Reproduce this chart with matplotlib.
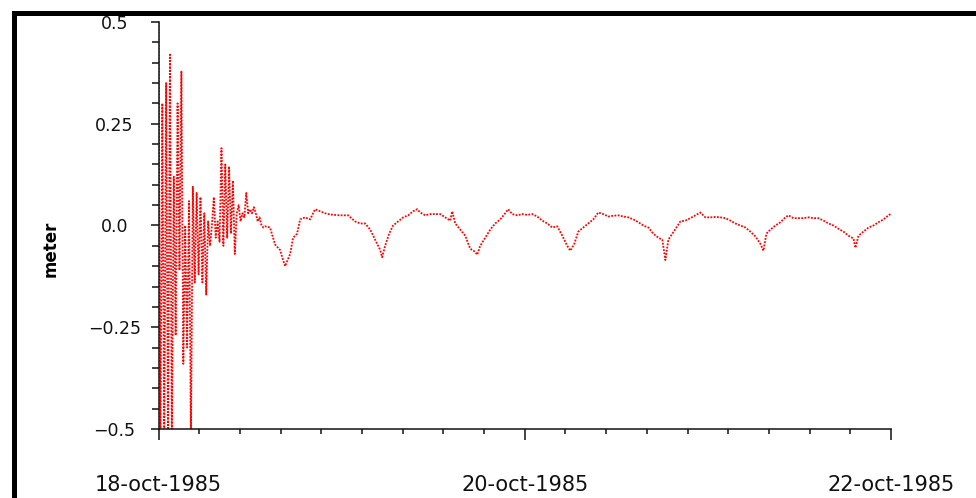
import numpy as np
import matplotlib
matplotlib.use("Agg")
import matplotlib.pyplot as plt
from matplotlib.patches import Rectangle
from matplotlib.ticker import MultipleLocator, FixedLocator, FixedFormatter

# sea level (meter), time in hours since 18-oct-1985 00:00
# model spin-up, first ~14 h at 15 min steps
spinup_step = 0.25
spinup_level = [0.50, -0.55, 0.30, -0.55, 0.35, -0.55, 0.42, -0.52, 0.12, -0.27,
                0.30, -0.11, 0.38, -0.34, 0.00, -0.30, 0.06, -0.52, 0.095, -0.14,
                0.08, -0.12, 0.07, -0.14, 0.03, -0.17, 0.01, -0.05, 0.00, 0.07,
                -0.03, 0.01, -0.04, 0.19, -0.05, 0.15, -0.03, 0.145, -0.02, 0.11,
                -0.07, 0.03, 0.05, 0.01, 0.03, 0.02, 0.08, 0.03, 0.04, 0.03,
                0.045, 0.03, 0.01, 0.02, 0.00, -0.005]

# settled tidal signal
tide_hours = [13.97, 14.62, 15.28, 15.93, 16.33, 16.59, 17.25, 17.64, 18.16, 18.56,
              19.21, 19.87, 20.52, 21.18, 21.84, 22.49, 23.80, 24.85, 25.77, 26.43,
              27.08, 27.74, 28.39, 29.05, 29.31, 29.70, 30.23, 30.75, 31.41, 32.07,
              32.72, 33.38, 33.90, 34.30, 34.95, 35.61, 36.26, 36.92, 37.57, 38.23,
              38.49, 38.89, 39.54, 40.20, 40.85, 41.51, 41.77, 42.16, 42.82, 43.48,
              44.13, 44.79, 45.44, 45.84, 46.36, 47.02, 47.67, 48.33, 48.98, 49.64,
              50.30, 50.95, 51.61, 52.26, 52.92, 53.57, 53.97, 54.49, 55.02, 55.67,
              56.33, 56.98, 57.64, 58.30, 58.95, 59.61, 60.26, 60.92, 61.57, 62.23,
              62.89, 63.54, 64.20, 64.85, 65.51, 66.03, 66.43, 66.82, 67.34, 67.87,
              68.39, 69.05, 69.70, 70.36, 71.02, 71.67, 72.33, 72.98, 73.64, 74.30,
              74.95, 75.61, 76.26, 76.92, 77.57, 78.23, 78.89, 79.28, 79.67, 80.20,
              80.85, 81.51, 82.16, 82.56, 83.21, 83.87, 84.52, 85.18, 85.84, 86.49,
              87.15, 87.80, 88.46, 89.11, 89.77, 90.43, 91.08, 91.34, 91.74, 92.39,
              93.05, 93.70, 94.36, 95.02, 95.67, 95.93]
tide_level = [-0.002, -0.005, -0.047, -0.060, -0.085, -0.100, -0.070, -0.030, -0.020, 0.015,
              0.020, 0.015, 0.040, 0.035, 0.030, 0.027, 0.025, 0.025, 0.010, 0.005,
              0.005, -0.010, -0.035, -0.060, -0.078, -0.050, -0.020, 0.000, 0.010, 0.020,
              0.025, 0.035, 0.040, 0.032, 0.025, 0.028, 0.028, 0.028, 0.020, 0.012,
              0.035, 0.005, -0.010, -0.025, -0.057, -0.065, -0.072, -0.050, -0.030, -0.010,
              0.005, 0.015, 0.030, 0.040, 0.028, 0.025, 0.028, 0.026, 0.028, 0.022,
              0.012, 0.005, -0.005, -0.002, -0.025, -0.050, -0.062, -0.045, -0.015, -0.005,
              0.005, 0.015, 0.032, 0.028, 0.022, 0.024, 0.025, 0.022, 0.020, 0.015,
              0.008, 0.000, -0.005, -0.020, -0.030, -0.035, -0.085, -0.035, -0.020, -0.005,
              0.010, 0.012, 0.018, 0.025, 0.032, 0.020, 0.020, 0.021, 0.020, 0.018,
              0.012, 0.005, 0.000, -0.005, -0.015, -0.027, -0.045, -0.062, -0.020, -0.010,
              0.000, 0.008, 0.020, 0.025, 0.018, 0.018, 0.018, 0.020, 0.018, 0.018,
              0.012, 0.005, 0.000, -0.008, -0.015, -0.025, -0.032, -0.055, -0.025, -0.015,
              -0.005, 0.000, 0.008, 0.015, 0.025, 0.028]

date_ticks = [0, 48, 96]
date_labels = ["18-oct-1985", "20-oct-1985", "22-oct-1985"]

hours = np.concatenate([np.arange(len(spinup_level)) * spinup_step, tide_hours])
level = np.concatenate([spinup_level, tide_level])

plt.rcParams['font.family'] = ['DejaVu Sans']

fig = plt.figure(figsize=(9.76, 4.98), dpi=100)
ax = fig.add_axes([0.1624, 0.1386, 0.7505, 0.8172])

ax.plot(hours, level, color='#ff0000', lw=1.3, linestyle=(0, (1, 0.8)))

ax.set_xlim(0, 96)
ax.set_ylim(-0.5, 0.5)

ax.xaxis.set_major_locator(FixedLocator(date_ticks))
ax.xaxis.set_major_formatter(FixedFormatter(date_labels))
ax.xaxis.set_minor_locator(MultipleLocator(48 / 9))
ax.yaxis.set_major_locator(MultipleLocator(0.25))
ax.yaxis.set_minor_locator(MultipleLocator(0.05))
ax.yaxis.set_major_formatter(plt.FuncFormatter(
    lambda v, p: ("%g" % v if v != 0 else "0.0").replace("-", "\u2212")))

for s in ['top', 'right']:
    ax.spines[s].set_visible(False)
for s in ['left', 'bottom']:
    ax.spines[s].set_linewidth(1.1)
    ax.spines[s].set_color('#111111')

ax.tick_params(axis='x', which='major', direction='out', length=8, width=1.1,
               pad=25, labelsize=15, colors='#111111')
ax.tick_params(axis='x', which='minor', direction='out', length=3.6, width=1.1,
               colors='#111111')
ax.tick_params(axis='y', which='major', direction='out', length=5.8, width=1.1,
               pad=26, labelsize=12.5, colors='#111111')
ax.tick_params(axis='y', which='minor', direction='out', length=5, width=1.1,
               colors='#111111')
for t in ax.get_yticklabels():
    t.set_horizontalalignment('center')

ax.set_ylabel("meter", fontsize=12, fontweight='bold')
ax.yaxis.set_label_coords(60 / 976, 0.5, transform=fig.transFigure)

# heavy page border, runs off the right and bottom edges
fig.add_artist(Rectangle((13.5 / 976, -0.2), 1.2, 0.9729 + 0.2,
                         transform=fig.transFigure, fill=False,
                         edgecolor='black', linewidth=3.6, clip_on=False))

fig.savefig("out.png", dpi=100)
